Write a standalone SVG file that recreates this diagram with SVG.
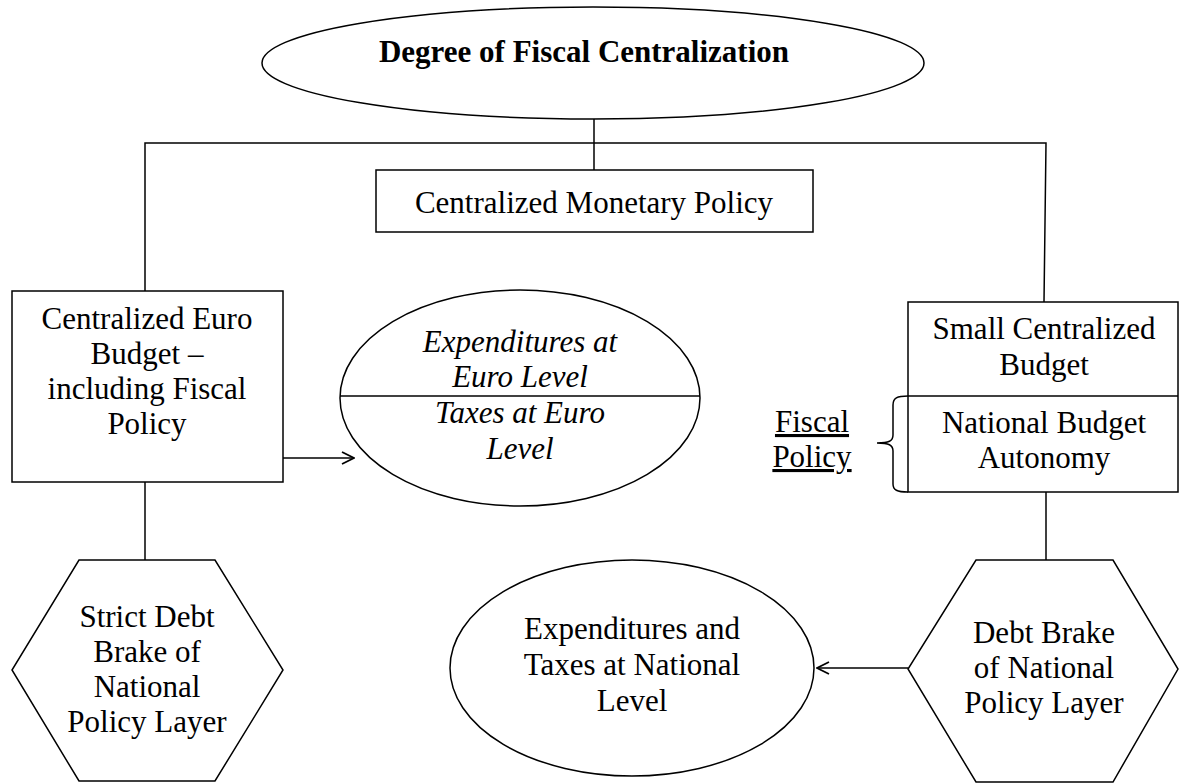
<svg xmlns="http://www.w3.org/2000/svg" width="1179" height="783" viewBox="0 0 1179 783">
  <style>
    .shape { fill: #ffffff; stroke: #000000; stroke-width: 1.5; }
    .line { fill: none; stroke: #000000; stroke-width: 1.5; }
    .txt { font-family: "Liberation Serif", "Times New Roman", serif; font-size: 31px; fill: #000000; text-anchor: middle; }
    .bold { font-weight: bold; }
    .ital { font-style: italic; }
    .ul { text-decoration: underline; }
  </style>
  <defs>
    <marker id="open-arrow" viewBox="0 0 14 14" refX="13" refY="7" markerWidth="14" markerHeight="14" markerUnits="userSpaceOnUse" orient="auto">
      <path d="M1,1 L13,7 L1,13" fill="none" stroke="#000000" stroke-width="1.8"/>
    </marker>
  </defs>
  <rect width="1179" height="783" fill="#ffffff"/>

  <!-- connectors -->
  <g id="connectors" class="line">
    <line x1="594" y1="118" x2="594" y2="170"/>
    <polyline points="145,291 145,143 1046,143 1044,302"/>
    <line x1="145" y1="482" x2="145" y2="560"/>
    <line x1="1046" y1="492" x2="1046" y2="560"/>
    <line x1="283" y1="458" x2="354" y2="458" marker-end="url(#open-arrow)"/>
    <line x1="908" y1="668" x2="817" y2="668" marker-end="url(#open-arrow)"/>
  </g>

  <!-- top: degree of fiscal centralization -->
  <g id="node-degree">
    <ellipse class="shape" cx="593" cy="63" rx="331" ry="56"/>
    <text class="txt bold" x="584" y="62">Degree of Fiscal Centralization</text>
  </g>

  <g id="node-monetary">
    <rect class="shape" x="376" y="170" width="437" height="62"/>
    <text class="txt" x="594" y="213">Centralized Monetary Policy</text>
  </g>

  <!-- left branch -->
  <g id="node-euro-budget">
    <rect class="shape" x="12" y="291" width="271" height="191"/>
    <text class="txt" x="147" y="329">Centralized Euro</text>
    <text class="txt" x="147" y="364">Budget –</text>
    <text class="txt" x="147" y="399">including Fiscal</text>
    <text class="txt" x="147" y="434">Policy</text>
  </g>

  <g id="node-euro-level">
    <ellipse class="shape" cx="520" cy="398" rx="180" ry="108"/>
    <line class="line" x1="340" y1="396" x2="700" y2="396"/>
    <text class="txt ital" x="520" y="352">Expenditures at</text>
    <text class="txt ital" x="520" y="387">Euro Level</text>
    <text class="txt ital" x="520" y="423">Taxes at Euro</text>
    <text class="txt ital" x="520" y="459">Level</text>
  </g>

  <g id="node-strict-debt-brake">
    <polygon class="shape" points="79,560 215,560 283,670 215,781 79,781 12,670"/>
    <text class="txt" x="147" y="627">Strict Debt</text>
    <text class="txt" x="147" y="662">Brake of</text>
    <text class="txt" x="147" y="697">National</text>
    <text class="txt" x="147" y="732">Policy Layer</text>
  </g>

  <!-- right branch -->
  <g id="node-small-budget">
    <rect class="shape" x="908" y="302" width="270" height="190"/>
    <line class="line" x1="908" y1="396" x2="1178" y2="396"/>
    <text class="txt" x="1044" y="339">Small Centralized</text>
    <text class="txt" x="1044" y="375">Budget</text>
    <text class="txt" x="1044" y="433">National Budget</text>
    <text class="txt" x="1044" y="468">Autonomy</text>
  </g>

  <g id="node-fiscal-policy">
    <path class="line" d="M908,396 C897,396 893,398 893,405 L893,435 C893,441 889,443 877,443 C889,443 893,445 893,451 L893,484 C893,490 897,492 908,492"/>
    <text class="txt ul" x="812" y="432">Fiscal</text>
    <text class="txt ul" x="812" y="467">Policy</text>
  </g>

  <g id="node-debt-brake">
    <polygon class="shape" points="976,560 1113,560 1178,669 1113,782 976,782 908,669"/>
    <text class="txt" x="1044" y="643">Debt Brake</text>
    <text class="txt" x="1044" y="678">of National</text>
    <text class="txt" x="1044" y="713">Policy Layer</text>
  </g>

  <g id="node-national-level">
    <ellipse class="shape" cx="632" cy="668" rx="182" ry="108"/>
    <text class="txt" x="632" y="639">Expenditures and</text>
    <text class="txt" x="632" y="675">Taxes at National</text>
    <text class="txt" x="632" y="711">Level</text>
  </g>
</svg>
